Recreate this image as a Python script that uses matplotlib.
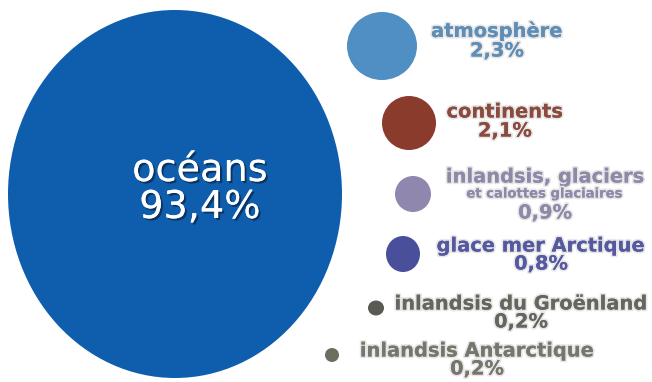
import matplotlib
matplotlib.use("Agg")
import matplotlib.pyplot as plt
from matplotlib.patches import Ellipse
import matplotlib.patheffects as pe

# Data
categories = ["océans", "atmosphère", "continents", "inlandsis, glaciers",
              "glace mer Arctique", "inlandsis du Groënland", "inlandsis Antarctique"]
values = [93.4, 2.3, 2.1, 0.9, 0.8, 0.2, 0.2]
sublabels = ["", "", "", "et calottes glaciaires", "", "", ""]

# Layout (pixel coordinates) and styles
centers = [(175, 194), (382, 46), (409, 123), (413, 194), (403, 254), (376, 308), (332, 355)]
radii = [(167, 184), (35, 34), (27, 27), (18, 18), (17, 18), (8, 7.5), (7, 7)]
colors = ["#0f5eae", "#4f8fc4", "#8b3b2c", "#8f87ae", "#4a4f9c", "#5a5a55", "#6e6e60"]
text_colors = ["white", "#5e8db5", "#8a4a3e", "#8e89a8", "#5559a0", "#66665f", "#76766c"]
label_pos = [(200, 171), (497, 31), (505, 112), (545, 177), (541, 246), (521, 304), (477, 351)]
value_pos = [(200, 208), (497, 51), (505, 131), (545, 213), (541, 264), (521, 322), (477, 369)]
sub_pos = [None, None, None, (545, 194), None, None, None]


def fmt(v):
    return f"{v:.1f}".replace(".", ",") + "%"


fig = plt.figure(figsize=(6.52, 3.82), dpi=100)
ax = fig.add_axes([0, 0, 1, 1])
ax.set_xlim(0, 652)
ax.set_ylim(382, 0)
ax.axis("off")

for i, cat in enumerate(categories):
    (cx, cy), (rx, ry) = centers[i], radii[i]
    ax.add_patch(Ellipse((cx, cy), 2 * rx, 2 * ry, color=colors[i], lw=0))

# Big label
shadow = [pe.withSimplePatchShadow(offset=(1.5, -1.5), shadow_rgbFace="#0a2a50", alpha=0.8), pe.Normal()]
ax.text(*label_pos[0], categories[0], color="white", fontsize=27.5, ha="center", va="center",
        family="DejaVu Sans", path_effects=shadow)
ax.text(*value_pos[0], fmt(values[0]), color="white", fontsize=27.5, ha="center", va="center",
        family="DejaVu Sans", path_effects=shadow)

outline = [pe.withStroke(linewidth=2.5, foreground="#e6e6e6"), pe.Normal()]
for i in range(1, len(categories)):
    ax.text(*label_pos[i], categories[i], color=text_colors[i], fontsize=14, fontweight="bold",
            ha="center", va="center", family="DejaVu Sans", path_effects=outline)
    ax.text(*value_pos[i], fmt(values[i]), color=text_colors[i], fontsize=14, fontweight="bold",
            ha="center", va="center", family="DejaVu Sans", path_effects=outline)
    if sub_pos[i] is not None:
        ax.text(*sub_pos[i], sublabels[i], color=text_colors[i], fontsize=9.5, fontweight="bold",
                ha="center", va="center", family="DejaVu Sans", path_effects=outline)

fig.savefig("out.png", dpi=100)
